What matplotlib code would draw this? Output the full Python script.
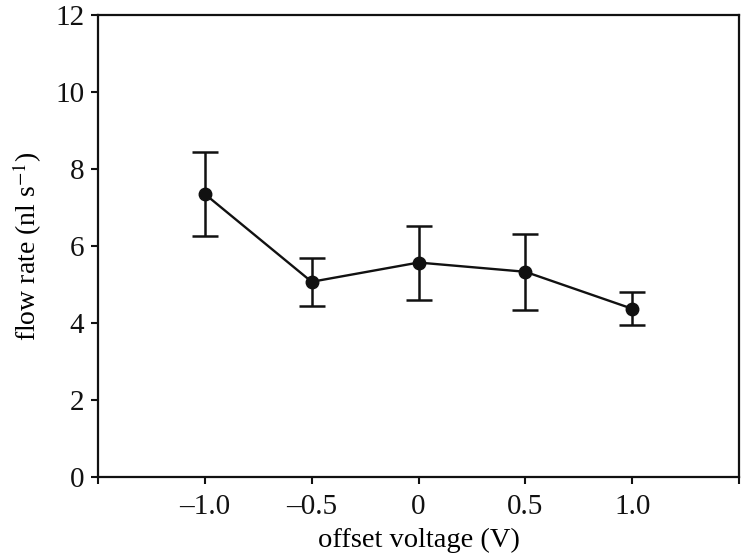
import matplotlib.pyplot as plt

plt.rcParams['font.family'] = ['Liberation Serif', 'DejaVu Serif']
plt.rcParams['mathtext.fontset'] = 'stix'

voltage = [-1.0, -0.5, 0.0, 0.5, 1.0]
flow = [7.35, 5.07, 5.57, 5.33, 4.37]
err_hi = [8.43, 5.69, 6.51, 6.31, 4.80]
err_lo = [6.26, 4.44, 4.61, 4.34, 3.96]

xticks = [-1.5, -1.0, -0.5, 0.0, 0.5, 1.0, 1.5]
xticklabels = ['', '–1.0', '–0.5', '0', '0.5', '1.0', '']
yticks = [0, 2, 4, 6, 8, 10, 12]

fig = plt.figure(figsize=(7.44, 5.59), dpi=100)
ax = fig.add_axes([0.1317, 0.1467, 0.8616, 0.8265])

yerr = [[f - lo for f, lo in zip(flow, err_lo)],
        [hi - f for f, hi in zip(flow, err_hi)]]
ax.errorbar(voltage, flow, yerr=yerr, color='#111111', lw=1.7,
            marker='o', ms=9, capsize=9.5, capthick=1.8, elinewidth=1.8)

ax.set_xlim(-1.5, 1.5)
ax.set_ylim(0, 12)
ax.set_xticks(xticks)
ax.set_xticklabels(xticklabels)
ax.set_yticks(yticks)
ax.tick_params(direction='out', length=5, width=1.5, labelsize=21, colors='#111111')
ax.tick_params(axis='x', pad=7)
ax.tick_params(axis='y', pad=5)
for s in ax.spines.values():
  s.set_linewidth(1.6)
  s.set_color('#111111')

ax.set_xlabel('offset voltage (V)', fontsize=20.5, labelpad=6)
ax.set_ylabel('flow rate (nl s$^{\\mathrm{-1}}$)', fontsize=20, labelpad=8)

fig.savefig('out.png', dpi=100)
